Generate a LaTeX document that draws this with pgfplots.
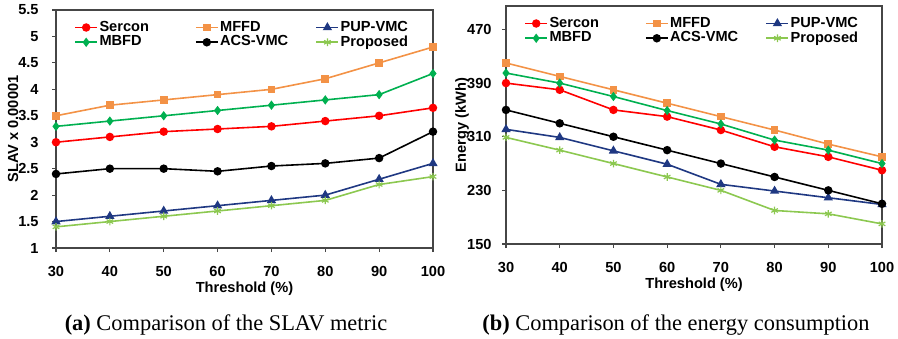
\documentclass[border=0pt]{standalone}
\usepackage{pgfplots}
\pgfplotsset{compat=1.18}
\usepackage{fontspec}
\setmainfont{Liberation Sans}
\newfontfamily\capfont{Liberation Serif}
\definecolor{cSer}{RGB}{255,0,0}
\definecolor{cMFFD}{RGB}{243,146,70}
\definecolor{cPUP}{RGB}{31,56,130}
\definecolor{cMBFD}{RGB}{0,176,80}
\definecolor{cACS}{RGB}{0,0,0}
\definecolor{cProp}{RGB}{140,200,80}
\definecolor{frame}{RGB}{70,70,70}
\pgfplotsset{
  common/.style={
    scale only axis,
    width=188.5pt, height=119pt,
    xmin=30, xmax=100,
    xtick={30,40,...,100},
    axis line style={draw=frame, line width=0.6pt},
    tick style={draw=frame, line width=0.6pt},
    tick align=outside, tick pos=left,
    major tick length=2pt,
    /pgf/number format/assume math mode=true,
    ticklabel style={font=\bfseries\fontsize{7.3}{8}\selectfont},
    xticklabel style={anchor=base, inner sep=0pt, yshift=-12pt},
    label style={font=\bfseries\fontsize{7.3}{8}\selectfont},
    xlabel style={at={(axis description cs:0.5,0)}, anchor=base, yshift=-22pt},
    every axis plot/.append style={line width=0.8pt},
    legend columns=3,
    legend cell align=left,
    legend style={draw=none, fill=none, inner sep=0pt, row sep=-0.8pt,
      font=\bfseries\fontsize{7.3}{8}\selectfont,
      nodes={inner sep=0.75pt},
      at={([xshift=9pt,yshift=-4.5pt]axis description cs:0,1)}, anchor=north west},
    legend image code/.code={
      \draw[mark repeat=2,mark phase=2] plot coordinates {(0pt,0pt)(5.5pt,0pt)(11pt,0pt)};
    },
  },
  sSer/.style={color=cSer, mark=*, mark size=1.7pt},
  sMFFD/.style={color=cMFFD, mark=square*, mark size=1.5pt},
  sPUP/.style={color=cPUP, mark=triangle*, mark size=1.9pt},
  sMBFD/.style={color=cMBFD, mark=diamond*, mark size=1.7pt},
  sACS/.style={color=cACS, mark=*, mark size=1.7pt},
  sProp/.style={color=cProp, mark=asterisk, mark size=1.9pt, mark options={line width=0.6pt}},
}
\newcommand{\legw}[1]{\makebox[47pt][l]{#1}}
\begin{document}
\begin{tikzpicture}
\useasboundingbox (0,0) rectangle (449pt,169pt);
% (a) SLAV
\begin{axis}[common,
  at={(28pt,45pt)}, anchor=south west,
  ymin=1, ymax=5.5, ytick={1,1.5,...,5.5},
  yticklabel style={anchor=east, inner sep=0pt, xshift=-6.5pt},
  xlabel={Threshold (\%)},
  ylabel={SLAV x 0.00001},
  ylabel style={at={([xshift=-21.5pt]axis description cs:0,0.5)}, anchor=center},
]
\addplot[sSer] coordinates {(30,3.0)(40,3.1)(50,3.2)(60,3.25)(70,3.3)(80,3.4)(90,3.5)(100,3.65)};
\addlegendentry{\legw{Sercon}}
\addplot[sMFFD] coordinates {(30,3.5)(40,3.7)(50,3.8)(60,3.9)(70,4.0)(80,4.2)(90,4.5)(100,4.8)};
\addlegendentry{\legw{MFFD}}
\addplot[sPUP] coordinates {(30,1.5)(40,1.6)(50,1.7)(60,1.8)(70,1.9)(80,2.0)(90,2.3)(100,2.6)};
\addlegendentry{\legw{PUP-VMC}}
\addplot[sMBFD] coordinates {(30,3.3)(40,3.4)(50,3.5)(60,3.6)(70,3.7)(80,3.8)(90,3.9)(100,4.3)};
\addlegendentry{\legw{MBFD}}
\addplot[sACS] coordinates {(30,2.4)(40,2.5)(50,2.5)(60,2.45)(70,2.55)(80,2.6)(90,2.7)(100,3.2)};
\addlegendentry{\legw{ACS-VMC}}
\addplot[sProp] coordinates {(30,1.4)(40,1.5)(50,1.6)(60,1.7)(70,1.8)(80,1.9)(90,2.2)(100,2.35)};
\addlegendentry{\legw{Proposed}}
\end{axis}
% (b) Energy
\begin{axis}[common,
  at={(253pt,47pt)}, anchor=south west,
  width=188pt,
  ymin=150, ymax=505, ytick={150,230,310,390,470},
  yticklabel style={anchor=east, inner sep=0pt, xshift=-5pt},
  xlabel={Threshold (\%)},
  ylabel={Energy (kWh)},
  ylabel style={at={([xshift=-22pt]axis description cs:0,0.5)}, anchor=center},
]
\addplot[sSer] coordinates {(30,390)(40,380)(50,350)(60,340)(70,320)(80,295)(90,280)(100,260)};
\addlegendentry{\legw{Sercon}}
\addplot[sMFFD] coordinates {(30,420)(40,400)(50,380)(60,360)(70,340)(80,320)(90,299)(100,280)};
\addlegendentry{\legw{MFFD}}
\addplot[sPUP] coordinates {(30,321)(40,309)(50,289)(60,269)(70,239)(80,229)(90,219)(100,209)};
\addlegendentry{\legw{PUP-VMC}}
\addplot[sMBFD] coordinates {(30,405)(40,390)(50,370)(60,349)(70,329)(80,305)(90,290)(100,270)};
\addlegendentry{\legw{MBFD}}
\addplot[sACS] coordinates {(30,350)(40,330)(50,310)(60,290)(70,270)(80,250)(90,230)(100,210)};
\addlegendentry{\legw{ACS-VMC}}
\addplot[sProp] coordinates {(30,309)(40,290)(50,270)(60,250)(70,230)(80,200)(90,195)(100,180)};
\addlegendentry{\legw{Proposed}}
\end{axis}
\node[anchor=base, font=\capfont\fontsize{11.2}{13}\selectfont] at (113pt,4pt) {\textbf{(a)} Comparison of the SLAV metric};
\node[anchor=base, font=\capfont\fontsize{11.2}{13}\selectfont] at (338pt,4pt) {\textbf{(b)} Comparison of the energy consumption};
\end{tikzpicture}
\end{document}
